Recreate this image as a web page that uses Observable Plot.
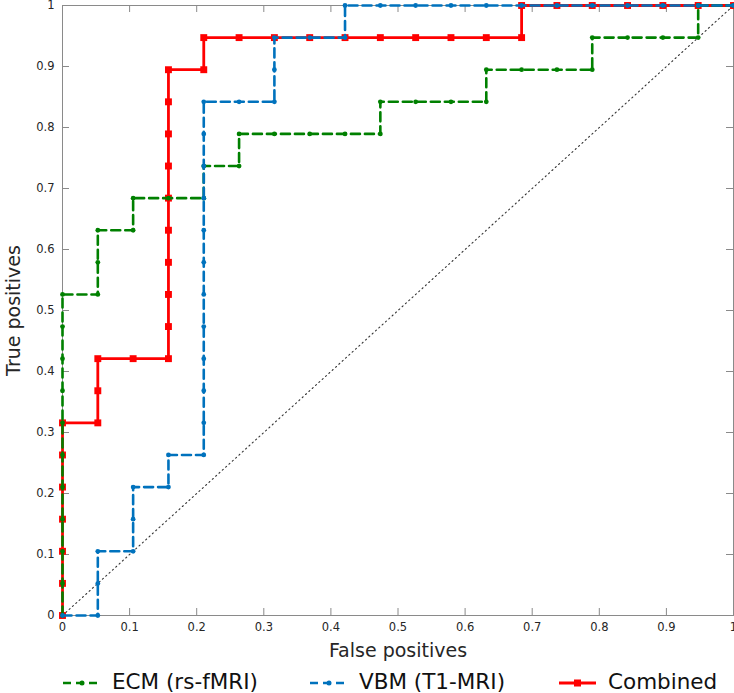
<!DOCTYPE html>
<html>
<head>
<meta charset="utf-8">
<script src="https://cdn.jsdelivr.net/npm/d3@7"></script>
<script src="https://cdn.jsdelivr.net/npm/@observablehq/plot@0.6"></script>
<style>
  body { margin: 0; background: #fff; font-family: "DejaVu Sans", sans-serif; }
  #chart svg { display: block; }
</style>
</head>
<body>
<div id="chart"></div>
<script>
// ROC data: counts of false positives (out of 19 negatives) and true positives (out of 19 positives)
const nNeg = 19;
const nPos = 19;

const ecmFP = [0,0,0,0,0,0,0,0,0,0,0,1,1,1,2,2,3,4,4,5,5,6,7,8,9,9,10,11,12,12,13,14,15,15,16,17,18,18,19];
const ecmTP = [0,1,2,3,4,5,6,7,8,9,10,10,11,12,12,13,13,13,14,14,15,15,15,15,15,16,16,16,16,17,17,17,17,18,18,18,18,19,19];

const vbmFP = [0,1,1,1,2,2,2,3,3,4,4,4,4,4,4,4,4,4,4,4,4,5,6,6,6,7,8,8,9,10,11,12,13,14,15,16,17,18,19];
const vbmTP = [0,0,1,2,2,3,4,4,5,5,6,7,8,9,10,11,12,13,14,15,16,16,16,17,18,18,18,19,19,19,19,19,19,19,19,19,19,19,19];

const combFP = [0,0,0,0,0,0,0,1,1,1,2,3,3,3,3,3,3,3,3,3,3,4,4,5,6,7,8,9,10,11,12,13,13,14,15,16,17,18,19];
const combTP = [0,1,2,3,4,5,6,6,7,8,8,8,9,10,11,12,13,14,15,16,17,17,18,18,18,18,18,18,18,18,18,18,19,19,19,19,19,19,19];

const seriesNames = ["ECM (rs-fMRI)", "VBM (T1-MRI)", "Combined"];
const seriesColors = ["#008000", "#0072bd", "#ff0000"];

const xTicks = [0,0.1,0.2,0.3,0.4,0.5,0.6,0.7,0.8,0.9,1];
const xTickLabels = ["0","0.1","0.2","0.3","0.4","0.5","0.6","0.7","0.8","0.9","1"];
const yTicks = [0,0.1,0.2,0.3,0.4,0.5,0.6,0.7,0.8,0.9,1];
const yTickLabels = ["0","0.1","0.2","0.3","0.4","0.5","0.6","0.7","0.8","0.9","1"];
const diagonal = [[0,0],[1,1]];

const toPts = (fp, tp) => fp.map((f, i) => ({x: f / nNeg, y: tp[i] / nPos}));
const ecm = toPts(ecmFP, ecmTP);
const vbm = toPts(vbmFP, vbmTP);
const comb = toPts(combFP, combTP);

const axisGray = "#8a8a8a";
const W = 734, H = 655;
const mL = 62, mR = 1, mT = 5, mB = 40;
const tickLenY = 7 / (H - mT - mB);
const tickLenX = 7 / (W - mL - mR);

const chart = Plot.plot({
  width: W,
  height: H,
  marginLeft: mL,
  marginRight: mR,
  marginTop: mT,
  marginBottom: mB,
  style: {fontFamily: "'DejaVu Sans', sans-serif", fontSize: "11.5px", color: "#262626", background: "#fff", overflow: "visible"},
  x: {domain: [0, 1]},
  y: {domain: [0, 1]},
  marks: [
    Plot.axisX({ticks: xTicks, tickFormat: d => xTickLabels[xTicks.indexOf(d)], tickSize: 0, tickPadding: 7, label: null, fontSize: 11.5}),
    Plot.axisY({ticks: yTicks, tickFormat: d => yTickLabels[yTicks.indexOf(d)], tickSize: 0, tickPadding: 8, label: null, fontSize: 11.5}),
    // inward ticks on all four sides
    Plot.ruleX(xTicks, {x: d => d, y1: 0, y2: tickLenY, stroke: axisGray, strokeWidth: 1}),
    Plot.ruleX(xTicks, {x: d => d, y1: 1 - tickLenY, y2: 1, stroke: axisGray, strokeWidth: 1}),
    Plot.ruleY(yTicks, {y: d => d, x1: 0, x2: tickLenX, stroke: axisGray, strokeWidth: 1}),
    Plot.ruleY(yTicks, {y: d => d, x1: 1 - tickLenX, x2: 1, stroke: axisGray, strokeWidth: 1}),
    Plot.frame({stroke: axisGray, strokeWidth: 1}),
    // chance diagonal
    Plot.line(diagonal, {x: d => d[0], y: d => d[1], stroke: "#333", strokeWidth: 1.1, strokeDasharray: "1.2,3.3"}),
    // Combined
    Plot.line(comb, {x: "x", y: "y", stroke: seriesColors[2], strokeWidth: 2.8}),
    Plot.dot(comb, {x: "x", y: "y", symbol: "square", r: 3.9, fill: seriesColors[2], stroke: null}),
    // ECM
    Plot.line(ecm, {x: "x", y: "y", stroke: seriesColors[0], strokeWidth: 2.6, strokeDasharray: "9,5"}),
    Plot.dot(ecm, {x: "x", y: "y", r: 2.4, fill: seriesColors[0], stroke: null}),
    // VBM
    Plot.line(vbm, {x: "x", y: "y", stroke: seriesColors[1], strokeWidth: 2.6, strokeDasharray: "9,5"}),
    Plot.dot(vbm, {x: "x", y: "y", r: 2.4, fill: seriesColors[1], stroke: null}),
    // axis titles
    Plot.text(["False positives"], {frameAnchor: "bottom", lineAnchor: "middle", dy: 35, fontSize: 19, fill: "#262626"}),
    Plot.text(["True positives"], {frameAnchor: "left", textAnchor: "middle", dx: -49, rotate: -90, fontSize: 19, fill: "#262626"})
  ]
});
document.getElementById("chart").appendChild(chart);

// Legend below the chart
const legend = d3.select("#chart").append("svg")
  .attr("width", W).attr("height", 693 - H)
  .style("display", "block")
  .style("font-family", "'DejaVu Sans', sans-serif");
const legendX = [63, 310, 559];
const lineY = 28;
seriesNames.forEach((name, i) => {
  const g = legend.append("g").attr("transform", `translate(${legendX[i]},0)`);
  if (i < 2) {
    g.append("line").attr("x1", 0).attr("x2", 38).attr("y1", lineY).attr("y2", lineY)
      .attr("stroke", seriesColors[i]).attr("stroke-width", 2.6).attr("stroke-dasharray", "8,5");
    g.append("circle").attr("cx", 19).attr("cy", lineY).attr("r", 2.5).attr("fill", seriesColors[i]);
  } else {
    g.append("line").attr("x1", 0).attr("x2", 37).attr("y1", lineY).attr("y2", lineY)
      .attr("stroke", seriesColors[i]).attr("stroke-width", 2.8);
    g.append("rect").attr("x", 15).attr("y", lineY - 3.5).attr("width", 7).attr("height", 7).attr("fill", seriesColors[i]);
  }
  g.append("text").attr("x", 49).attr("y", 34).attr("font-size", 21.5).attr("fill", "#111").text(name);
});
</script>
</body>
</html>
